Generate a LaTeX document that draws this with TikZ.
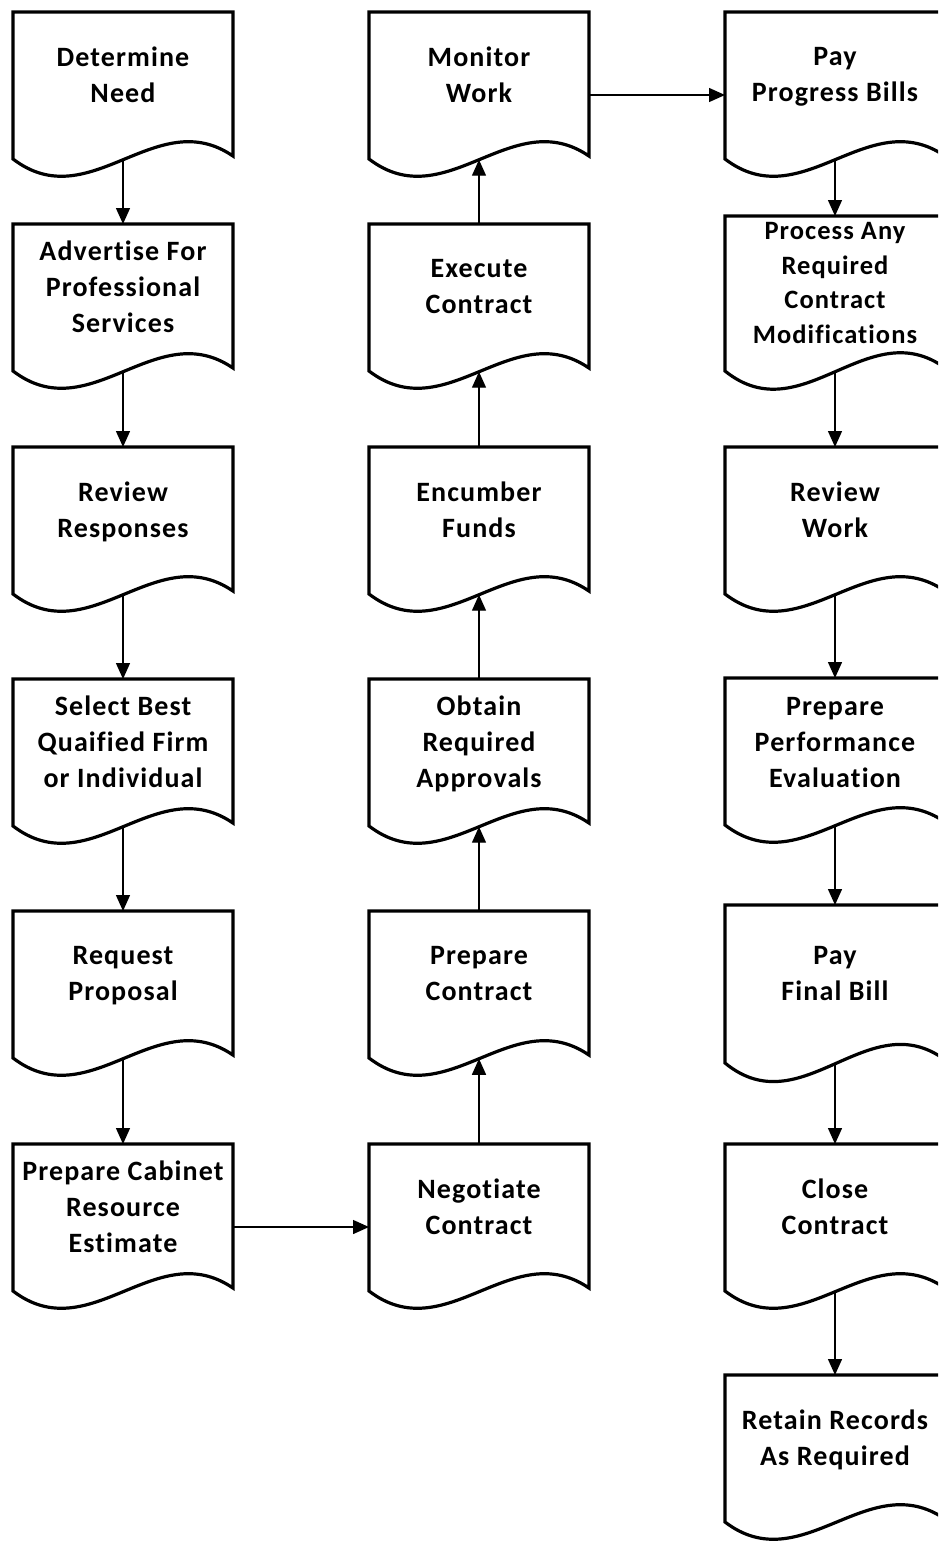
\documentclass[tikz,border=0pt]{standalone}
\usepackage{fontspec}
\setmainfont{Carlito}[LetterSpace=4,Ligatures=NoCommon]
\usetikzlibrary{arrows.meta,calc}
\tikzset{
  docline/.style={line width=3.2pt, line join=miter, fill=white},
  conn/.style={line width=1.4pt, -{Triangle[length=16pt,width=14pt]}},
  doctext/.style={font=\bfseries\fontsize{28}{36}\selectfont, align=center, inner sep=0pt,
    execute at begin node={\strut}, execute at end node={\strut}},
  smalltext/.style={font=\bfseries\fontsize{26.5}{34.5}\selectfont}
}
% [#1] extra text style, #2 name, #3 left x, #4 top y, #5 height to left end, #6 text offset, #7 text
\newcommand\docbox[7][]{%
  \draw[docline] (#3,#4) -- (#3+220,#4) -- (#3+220,#4+0.98*#5)
    .. controls (#3+143,#4+0.62*#5) and (#3+77,#4+1.40*#5) .. (#3,#4+#5) -- cycle;
  \node[doctext,#1] (#2) at (#3+110,#4+#6) {#7};
  \coordinate (#2-n) at (#3+110,#4);
  \coordinate (#2-s) at (#3+110,#4+1.005*#5);
  \coordinate (#2-e) at (#3+220,#4+83);
  \coordinate (#2-w) at (#3,#4+83);
}
\begin{document}
\begin{tikzpicture}[x=1pt,y=-1pt]
\clip (0,0) rectangle (938,1543);
\fill[white] (0,0) rectangle (938,1543);
% left column
\docbox{a1}{13}{12}{147}{68}{Determine\\Need}
\docbox{a2}{13}{224}{147}{68}{Advertise For\\Professional\\Services}
\docbox{a3}{13}{447}{147}{68}{Review\\Responses}
\docbox{a4}{13}{679}{147}{68}{Select Best\\Quaified Firm\\or Individual}
\docbox{a5}{13}{911}{147}{68}{Request\\Proposal}
\docbox{a6}{13}{1144}{147}{68}{Prepare Cabinet\\Resource\\Estimate}
% middle column
\docbox{b1}{369}{12}{147}{68}{Monitor\\Work}
\docbox{b2}{369}{224}{147}{68}{Execute\\Contract}
\docbox{b3}{369}{447}{147}{68}{Encumber\\Funds}
\docbox{b4}{369}{679}{147}{68}{Obtain\\Required\\Approvals}
\docbox{b5}{369}{911}{147}{68}{Prepare\\Contract}
\docbox{b6}{369}{1144}{147}{68}{Negotiate\\Contract}
% right column
\docbox{c1}{725}{12}{147}{68}{Pay\\Progress Bills}
\docbox[smalltext]{c2}{725}{216}{155}{72}{Process Any\\Required\\Contract\\Modifications}
\docbox{c3}{725}{447}{147}{68}{Review\\Work}
\docbox{c4}{725}{678}{147}{70}{Prepare\\Performance\\Evaluation}
\docbox{c5}{725}{905}{158}{74}{Pay\\Final Bill}
\docbox{c6}{725}{1144}{147}{68}{Close\\Contract}
\docbox{c7}{725}{1375}{147}{68}{Retain Records\\As Required}
% connectors
\draw[conn] (a1-s) -- (a2-n);
\draw[conn] (a2-s) -- (a3-n);
\draw[conn] (a3-s) -- (a4-n);
\draw[conn] (a4-s) -- (a5-n);
\draw[conn] (a5-s) -- (a6-n);
\draw[conn] (a6-e) -- (b6-w);
\draw[conn] (b6-n) -- (b5-s);
\draw[conn] (b5-n) -- (b4-s);
\draw[conn] (b4-n) -- (b3-s);
\draw[conn] (b3-n) -- (b2-s);
\draw[conn] (b2-n) -- (b1-s);
\draw[conn] (b1-e) -- (c1-w);
\draw[conn] (c1-s) -- (c2-n);
\draw[conn] (c2-s) -- (c3-n);
\draw[conn] (c3-s) -- (c4-n);
\draw[conn] (c4-s) -- (c5-n);
\draw[conn] (c5-s) -- (c6-n);
\draw[conn] (c6-s) -- (c7-n);
\end{tikzpicture}
\end{document}
